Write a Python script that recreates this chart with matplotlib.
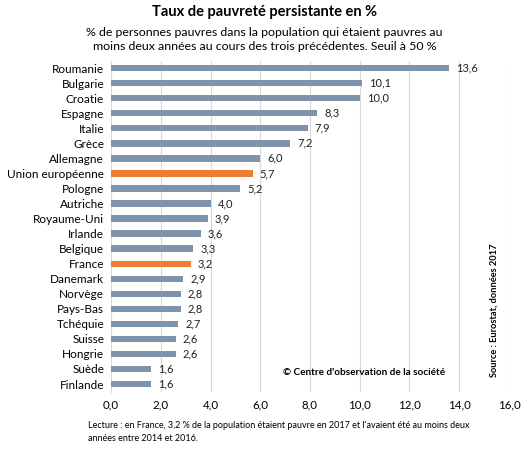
import matplotlib
matplotlib.use("Agg")
import matplotlib.pyplot as plt

countries = ["Roumanie", "Bulgarie", "Croatie", "Espagne", "Italie", "Grèce", "Allemagne",
             "Union européenne", "Pologne", "Autriche", "Royaume-Uni", "Irlande", "Belgique",
             "France", "Danemark", "Norvège", "Pays-Bas", "Tchéquie", "Suisse", "Hongrie",
             "Suède", "Finlande"]
values = [13.6, 10.1, 10.0, 8.3, 7.9, 7.2, 6.0, 5.7, 5.2, 4.0, 3.9, 3.6, 3.3, 3.2,
          2.9, 2.8, 2.8, 2.7, 2.6, 2.6, 1.6, 1.6]
highlight = ["Union européenne", "France"]
xticks = [0, 2, 4, 6, 8, 10, 12, 14, 16]

plt.rcParams['font.family'] = ['Lato', 'DejaVu Sans']

fig = plt.figure(figsize=(5.29, 4.49), dpi=100)
ax = fig.add_axes([0.21, 0.128, 0.752, 0.737])

n = len(countries)
ypos = list(range(n))
colors = ["#ED7D31" if c in highlight else "#8093AD" for c in countries]
ax.barh(ypos, values, height=0.42, color=colors, zorder=3)
for y, v in zip(ypos, values):
    ax.text(v + 0.28, y, f"{v:.1f}".replace(".", ","), va="center", ha="left",
            fontsize=8, color="#222222")

ax.set_ylim(n - 0.5, -0.5)
ax.set_xlim(0, 16)
ax.set_yticks(ypos)
ax.set_yticklabels(countries, fontsize=8.5)
ax.set_xticks(xticks)
ax.set_xticklabels([f"{t:.1f}".replace(".", ",") for t in xticks], fontsize=8.3)
ax.tick_params(axis="both", length=0)
ax.tick_params(axis="y", pad=5)
ax.tick_params(axis="x", pad=6)
ax.grid(axis="x", color="#D9D9D9", linewidth=0.8, zorder=0)
for s in ["top", "right", "bottom"]:
    ax.spines[s].set_visible(False)
ax.spines["left"].set_color("#D9D9D9")
ax.spines["left"].set_linewidth(0.8)

fig.text(0.5, 0.973, "Taux de pauvreté persistante en %", ha="center", va="center",
         fontsize=10.5, fontweight="bold")
fig.text(0.5, 0.912, "% de personnes pauvres dans la population qui étaient pauvres au\n"
         "moins deux années au cours des trois précédentes. Seuil à 50 %",
         ha="center", va="center", fontsize=8.9, linespacing=1.3)
fig.text(0.535, 0.171, "© Centre d'observation de la société", ha="left", va="center",
         fontsize=7.2, fontweight="bold")
fig.text(0.935, 0.31, "Source : Eurostat, données 2017", ha="center", va="center",
         rotation=90, fontsize=6.7, fontweight="bold")
fig.text(0.166, 0.038, "Lecture : en France, 3,2 % de la population étaient pauvre en 2017 et l'avaient été au moins deux\n"
         "années entre 2014 et 2016.", ha="left", va="center", fontsize=6.5, linespacing=1.5)

fig.savefig("out.png", dpi=100)
